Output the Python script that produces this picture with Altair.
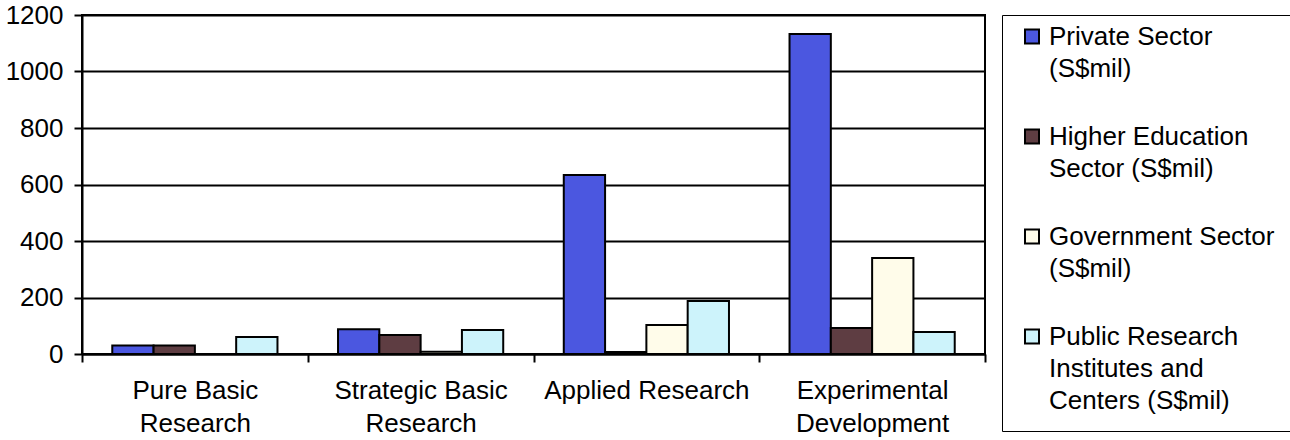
import altair as alt
import pandas as pd

categories = ["Pure Basic Research", "Strategic Basic Research", "Applied Research", "Experimental Development"]
series = ["Private Sector (S$mil)", "Higher Education Sector (S$mil)", "Government Sector (S$mil)",
          "Public Research Institutes and Centers (S$mil)"]
private = [30, 88, 634, 1133]
higher_ed = [30, 67, 7, 92]
government = [0, 8, 103, 340]
public = [60, 85, 188, 78]
colors = ["#4b57e0", "#5e3d42", "#fffcea", "#cdf3fb"]

rows = []
for vals, s in zip([private, higher_ed, government, public], series):
    for c, v in zip(categories, vals):
        rows.append({"Category": c, "Series": s, "Value": v})
df = pd.DataFrame(rows)

font = "Liberation Sans"

x_label_expr = ("datum.value == 'Pure Basic Research' ? ['Pure Basic', 'Research'] : "
                "datum.value == 'Strategic Basic Research' ? ['Strategic Basic', 'Research'] : "
                "datum.value == 'Experimental Development' ? ['Experimental', 'Development'] : datum.value")
legend_label_expr = ("datum.value == 'Private Sector (S$mil)' ? ['Private Sector', '(S$mil)'] : "
                     "datum.value == 'Higher Education Sector (S$mil)' ? ['Higher Education', 'Sector (S$mil)'] : "
                     "datum.value == 'Government Sector (S$mil)' ? ['Government Sector', '(S$mil)'] : "
                     "['Public Research', 'Institutes and', 'Centers (S$mil)']")

chart = alt.Chart(df).mark_bar(stroke="black", strokeWidth=2).encode(
    x=alt.X("Category:N", sort=categories, title=None,
            scale=alt.Scale(paddingInner=0, paddingOuter=0),
            axis=alt.Axis(labelAngle=0, labelExpr=x_label_expr, tickBand="extent",
                          labelFontSize=26, labelFont=font, labelColor="black",
                          labelLineHeight=33, labelBaseline="top", labelPadding=15,
                          labelLimit=400,
                          tickSize=8, tickColor="black", tickWidth=2,
                          domainColor="black", domainWidth=2, grid=False)),
    xOffset=alt.XOffset("Series:N", sort=series,
                        scale=alt.Scale(paddingInner=0, paddingOuter=0.733)),
    y=alt.Y("Value:Q", title=None,
            scale=alt.Scale(domain=[0, 1200], nice=False),
            axis=alt.Axis(values=[0, 200, 400, 600, 800, 1000, 1200], format="d",
                          labelFontSize=26, labelFont=font, labelColor="black",
                          labelPadding=11, tickSize=8, tickColor="black", tickWidth=2,
                          domainColor="black", domainWidth=2,
                          gridColor="black", gridWidth=2, gridOpacity=1)),
    color=alt.Color("Series:N", sort=series,
                    scale=alt.Scale(domain=series, range=colors),
                    legend=alt.Legend(title=None, orient="none", legendX=920, legendY=0,
                                      labelExpr=legend_label_expr, labelFont=font,
                                      labelFontSize=26, labelColor="black",
                                      labelBaseline="alphabetic", labelLimit=400,
                                      symbolType="M-1,-2.2H1V-0.2H-1Z", symbolSize=196,
                                      symbolStrokeColor="black", symbolStrokeWidth=2,
                                      labelOffset=4, rowPadding=42, padding=17,
                                      strokeColor="black", fillColor="white")),
).properties(
    width=903, height=339,
    autosize=alt.AutoSizeParams(type="none"),
    padding={"left": 82, "top": 15, "right": 305, "bottom": 86},
).configure(
    background="white",
    style={"guide-label": {"lineHeight": 32}},
).configure_view(stroke="black", strokeWidth=2)

chart.save("out.html", embed_options={"renderer": "svg", "actions": False})
